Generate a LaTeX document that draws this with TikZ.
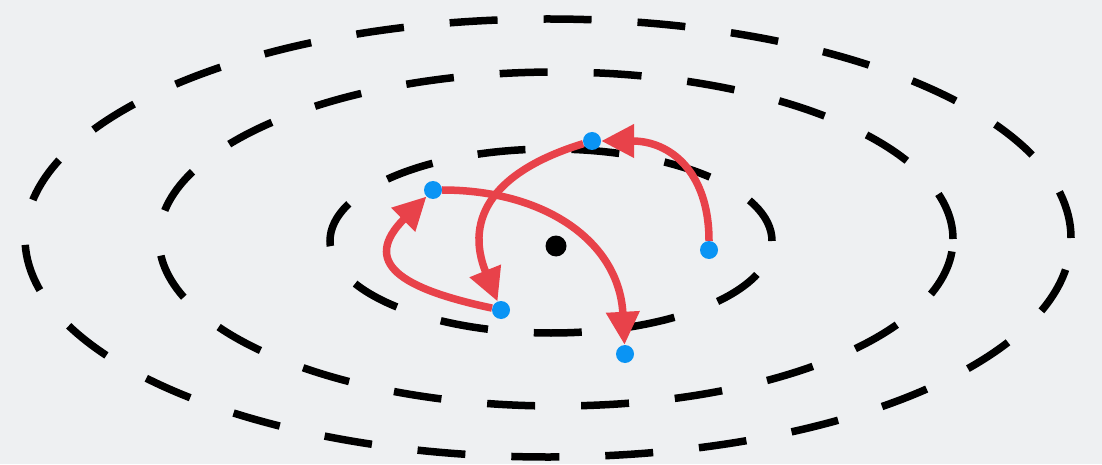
\documentclass[tikz,border=0pt]{standalone}
\usepackage{tikz}
\usetikzlibrary{
    arrows.meta
}
\definecolor{paper}{HTML}{EEF0F2}
\definecolor{hopred}{HTML}{E8424A}
\definecolor{siteblue}{HTML}{0A94F4}
\tikzstyle{orbit}=[
    draw=black,
    line width=7.5pt,
    dash pattern=on 48pt off 46pt
]
\tikzstyle{site}=[
    circle,
    fill=siteblue,
    inner sep=0pt,
    minimum size=18pt
]
\tikzstyle{core}=[
    circle,
    fill=black,
    inner sep=0pt,
    minimum size=21pt
]
\tikzstyle{hop}=[draw=hopred,line width=7.5pt,-{Triangle[length=33pt,width=32pt]}]

\begin{document}
\begin{tikzpicture}[x=1pt,y=1pt]
\fill[paper] (0,0) rectangle (1102,464);
\useasboundingbox (0,0) rectangle (1102,464);

\draw[orbit] (548,226) ellipse [x radius=523pt,y radius=219pt];
\draw[orbit] (556,225) ellipse [x radius=397pt,y radius=167pt];
\draw[orbit] (551,223) ellipse [x radius=221pt,y radius=92pt];

\node[core] (nucleus) at (556,218) {};
\node[site] (left) at (433,274) {};
\node[site] (top) at (592,323) {};
\node[site] (right) at (709,214) {};
\node[site] (lowleft) at (501,154) {};
\node[site] (lowright) at (625,110) {};

\draw[hop] (right) to[out=90,in=0,looseness=1.2] (top);
\draw[hop] (top) to[out=197,in=112,looseness=1.3] (lowleft);
\draw[hop] (lowleft) to[out=168,in=225,looseness=1.85] (left);
\draw[hop] (left) to[out=0,in=93,looseness=1.1] (lowright);
\end{tikzpicture}
\end{document}
